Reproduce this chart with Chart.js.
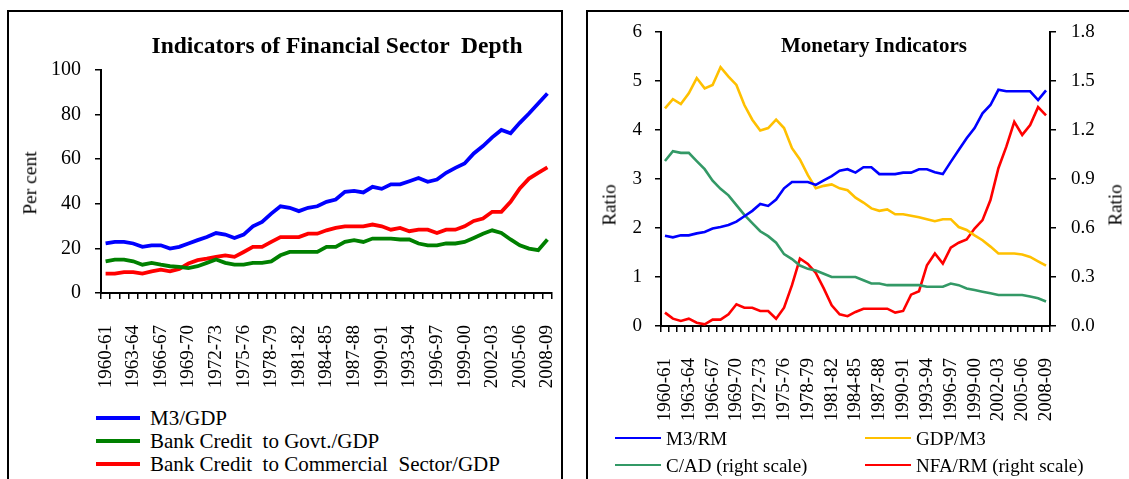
<!DOCTYPE html>
<html><head><meta charset="utf-8">
<script src="https://cdn.jsdelivr.net/npm/chart.js@4.4.0/dist/chart.umd.min.js"></script>
<style>
body{margin:0;width:1129px;height:479px;overflow:hidden;background:#fff;position:relative;font-family:"Liberation Serif","Times New Roman",serif;color:#000;}
.frame{position:absolute;border:2px solid #000;box-sizing:border-box;}
canvas{position:absolute;}
.t{position:absolute;white-space:pre;line-height:1;transform:translate(-50%,-50%);}
.r{transform:translate(-50%,-50%) rotate(-90deg);}
.lg{position:absolute;white-space:pre;line-height:1;transform:translateY(-50%);}
.sw{position:absolute;}
</style></head><body>
<div class="frame" style="left:7px;top:10px;width:556px;height:520px;"></div>
<div class="frame" style="left:586px;top:10px;width:620px;height:520px;"></div>
<canvas id="c1" width="562" height="400" style="left:0;top:0"></canvas>
<canvas id="c2" width="549" height="432" style="left:580px;top:0"></canvas>
<div id="txt"></div>
<script>
const categories = ['1960-61','1961-62','1962-63','1963-64','1964-65','1965-66','1966-67','1967-68','1968-69','1969-70',
'1970-71','1971-72','1972-73','1973-74','1974-75','1975-76','1976-77','1977-78','1978-79','1979-80',
'1980-81','1981-82','1982-83','1983-84','1984-85','1985-86','1986-87','1987-88','1988-89','1989-90',
'1990-91','1991-92','1992-93','1993-94','1994-95','1995-96','1996-97','1997-98','1998-99','1999-00',
'2000-01','2001-02','2002-03','2003-04','2004-05','2005-06','2006-07','2007-08','2008-09'];

// Left panel: Indicators of Financial Sector Depth (per cent)
const m3Gdp = [22.2,22.9,22.9,22.2,20.7,21.4,21.4,19.9,20.7,22.2,23.7,25.1,26.9,26.2,24.7,26.2,29.9,31.9,35.6,38.9,
38.2,36.7,38.2,38.9,40.9,41.9,45.4,45.8,45.1,47.6,46.7,48.7,48.7,50.1,51.6,49.9,50.9,53.9,56.1,58.1,
62.6,65.9,69.8,73.1,71.6,76.3,80.5,85.0,89.5];
const govtCredit = [14.2,15.0,15.0,14.2,12.7,13.5,12.7,12.0,11.7,11.2,12.0,13.5,15.0,13.5,12.7,12.7,13.5,13.5,14.2,16.9,
18.4,18.4,18.4,18.4,20.7,20.7,22.9,23.7,22.9,24.4,24.4,24.4,24.0,24.0,22.2,21.4,21.4,22.2,22.2,22.9,
24.7,26.6,28.1,26.9,24.0,21.4,19.9,19.2,24.0];
const commCredit = [8.7,8.7,9.4,9.4,8.7,9.7,10.5,9.7,10.8,13.2,14.7,15.4,16.2,16.9,16.2,18.4,20.7,20.7,22.9,25.1,
25.1,25.1,26.6,26.6,28.1,29.2,29.9,29.9,29.9,30.7,29.9,28.4,29.2,27.7,28.4,28.4,26.9,28.4,28.4,29.9,
32.3,33.4,36.4,36.4,40.9,46.9,51.3,53.9,56.3];
const leftTicks = [0,20,40,60,80,100];

// Right panel: Monetary Indicators (ratio)
const m3Rm = [1.84,1.81,1.85,1.85,1.89,1.92,1.99,2.02,2.06,2.13,2.24,2.35,2.49,2.45,2.58,2.81,2.94,2.94,2.94,2.88,
2.97,3.06,3.17,3.20,3.13,3.24,3.24,3.10,3.10,3.10,3.13,3.13,3.20,3.20,3.14,3.10,3.35,3.59,3.83,4.04,
4.34,4.51,4.82,4.79,4.79,4.79,4.79,4.61,4.81];
const gdpM3 = [4.44,4.63,4.53,4.75,5.06,4.85,4.92,5.28,5.09,4.92,4.51,4.21,3.99,4.04,4.21,4.04,3.63,3.40,3.08,2.81,
2.86,2.89,2.81,2.77,2.62,2.52,2.40,2.35,2.38,2.28,2.28,2.25,2.22,2.18,2.14,2.18,2.18,2.02,1.96,1.85,
1.75,1.62,1.48,1.48,1.48,1.46,1.41,1.32,1.23];
const cAd = [1.01,1.07,1.06,1.06,1.01,0.96,0.89,0.84,0.80,0.74,0.68,0.63,0.58,0.55,0.51,0.44,0.41,0.37,0.35,0.34,
0.32,0.30,0.30,0.30,0.30,0.28,0.26,0.26,0.25,0.25,0.25,0.25,0.25,0.24,0.24,0.24,0.26,0.25,0.23,0.22,
0.21,0.20,0.19,0.19,0.19,0.19,0.18,0.17,0.15];
const nfaRm = [0.082,0.045,0.031,0.045,0.020,0.010,0.039,0.039,0.072,0.133,0.112,0.112,0.092,0.092,0.045,0.112,0.250,0.413,0.380,0.325,
0.230,0.127,0.072,0.060,0.086,0.106,0.106,0.106,0.106,0.082,0.092,0.192,0.213,0.372,0.444,0.382,0.480,0.510,0.530,0.597,
0.648,0.771,0.966,1.098,1.250,1.170,1.230,1.340,1.290];
const rightLeftTicks = [0,1,2,3,4,5,6];
const rightRightTicks = [0,0.3,0.6,0.9,1.2,1.5,1.8];

const leftSeries = [
  {label:'M3/GDP', data:m3Gdp, color:'#0000FF'},
  {label:'Bank Credit  to Govt./GDP', data:govtCredit, color:'#008000'},
  {label:'Bank Credit  to Commercial  Sector/GDP', data:commCredit, color:'#FF0000'}
];
const rightSeries = [
  {label:'M3/RM', data:m3Rm, color:'#0000FF', axis:'y'},
  {label:'GDP/M3', data:gdpM3, color:'#FFC000', axis:'y'},
  {label:'C/AD (right scale)', data:cAd, color:'#339966', axis:'y1'},
  {label:'NFA/RM (right scale)', data:nfaRm, color:'#FF0000', axis:'y1'}
];

const FONT = 'Liberation Serif';
const xAxis = (h) => ({
  type:'category', offset:true,
  grid:{offset:true, drawOnChartArea:false, drawTicks:true, tickLength:6, color:'#000', lineWidth:1.5},
  border:{display:true, color:'#000', width:2},
  ticks:{autoSkip:false, maxRotation:90, minRotation:90, padding:26, color:'#000',
    font:{family:FONT, size:19}, callback:(v,i)=> i%3===0 ? categories[i] : ''},
  afterFit:s=>{s.height=h; s.paddingLeft=0; s.paddingRight=0;}
});
const common = {responsive:false, animation:false, events:[],
  plugins:{legend:{display:false}, title:{display:false}, tooltip:{enabled:false}}};

new Chart(document.getElementById('c1'), {
  type:'line',
  data:{labels:categories, datasets:leftSeries.map(s=>({label:s.label, data:s.data, borderColor:s.color,
    backgroundColor:s.color, borderWidth:3.8, pointRadius:0, tension:0, fill:false}))},
  options:Object.assign({}, common, {
    layout:{padding:{top:70, right:10, left:0, bottom:0}},
    scales:{
      x:xAxis(107),
      y:{min:0, max:100, afterBuildTicks:s=>{s.ticks=leftTicks.map(v=>({value:v}));},
        ticks:{padding:14, color:'#000', font:{family:FONT, size:20}},
        grid:{drawOnChartArea:false, tickLength:6, color:'#000', lineWidth:1.5},
        border:{color:'#000', width:2}, afterFit:s=>{s.width=101;}}
    }
  })
});

new Chart(document.getElementById('c2'), {
  type:'line',
  data:{labels:categories, datasets:rightSeries.map(s=>({label:s.label, data:s.data, borderColor:s.color,
    backgroundColor:s.color, borderWidth:2.6, pointRadius:0, tension:0, fill:false, yAxisID:s.axis}))},
  options:Object.assign({}, common, {
    layout:{padding:{top:32, right:0, left:0, bottom:0}},
    scales:{
      x:xAxis(106),
      y:{position:'left', min:0, max:6, afterBuildTicks:s=>{s.ticks=rightLeftTicks.map(v=>({value:v}));},
        ticks:{padding:13, color:'#000', font:{family:FONT, size:19}},
        grid:{drawOnChartArea:false, tickLength:6, color:'#000', lineWidth:1.5},
        border:{color:'#000', width:2}, afterFit:s=>{s.width=81;}},
      y1:{position:'right', min:0, max:1.8, afterBuildTicks:s=>{s.ticks=rightRightTicks.map(v=>({value:v}));},
        ticks:{padding:15, color:'#000', font:{family:FONT, size:19}, callback:v=>Number(v).toFixed(1)},
        grid:{drawOnChartArea:false, tickLength:6, color:'#000', lineWidth:1.5},
        border:{color:'#000', width:2}, afterFit:s=>{s.width=79;}}
    }
  })
});

// HTML text: titles, axis titles, legends
const txt = document.getElementById('txt');
function add(html){ txt.insertAdjacentHTML('beforeend', html); }
add('<div class="t" style="left:337px;top:46px;font-size:23.5px;font-weight:bold;">Indicators of Financial Sector  Depth</div>');
add('<div class="t" style="left:874px;top:45px;font-size:21px;font-weight:bold;">Monetary Indicators</div>');
add('<div class="t r" style="left:30px;top:183px;font-size:19.5px;">Per cent</div>');
add('<div class="t r" style="left:609px;top:205px;font-size:19px;">Ratio</div>');
add('<div class="t r" style="left:1115px;top:205px;font-size:19px;">Ratio</div>');
const leftRows = [418,441,464];
leftSeries.forEach((s,i)=>{
  add(`<div class="sw" style="left:96px;top:${leftRows[i]-1.75}px;width:44px;height:3.5px;background:${s.color}"></div>`);
  add(`<div class="lg" style="left:150px;top:${leftRows[i]}px;font-size:21px;">${s.label.replace(/ /g,'&nbsp;')}</div>`);
});
const rightPos = [[615,438],[865,438],[615,465],[865,465]];
rightSeries.forEach((s,i)=>{
  const [x,y] = rightPos[i];
  add(`<div class="sw" style="left:${x}px;top:${y-1}px;width:46px;height:2px;background:${s.color}"></div>`);
  add(`<div class="lg" style="left:${x+51}px;top:${y}px;font-size:19px;">${s.label}</div>`);
});
</script>
</body></html>
